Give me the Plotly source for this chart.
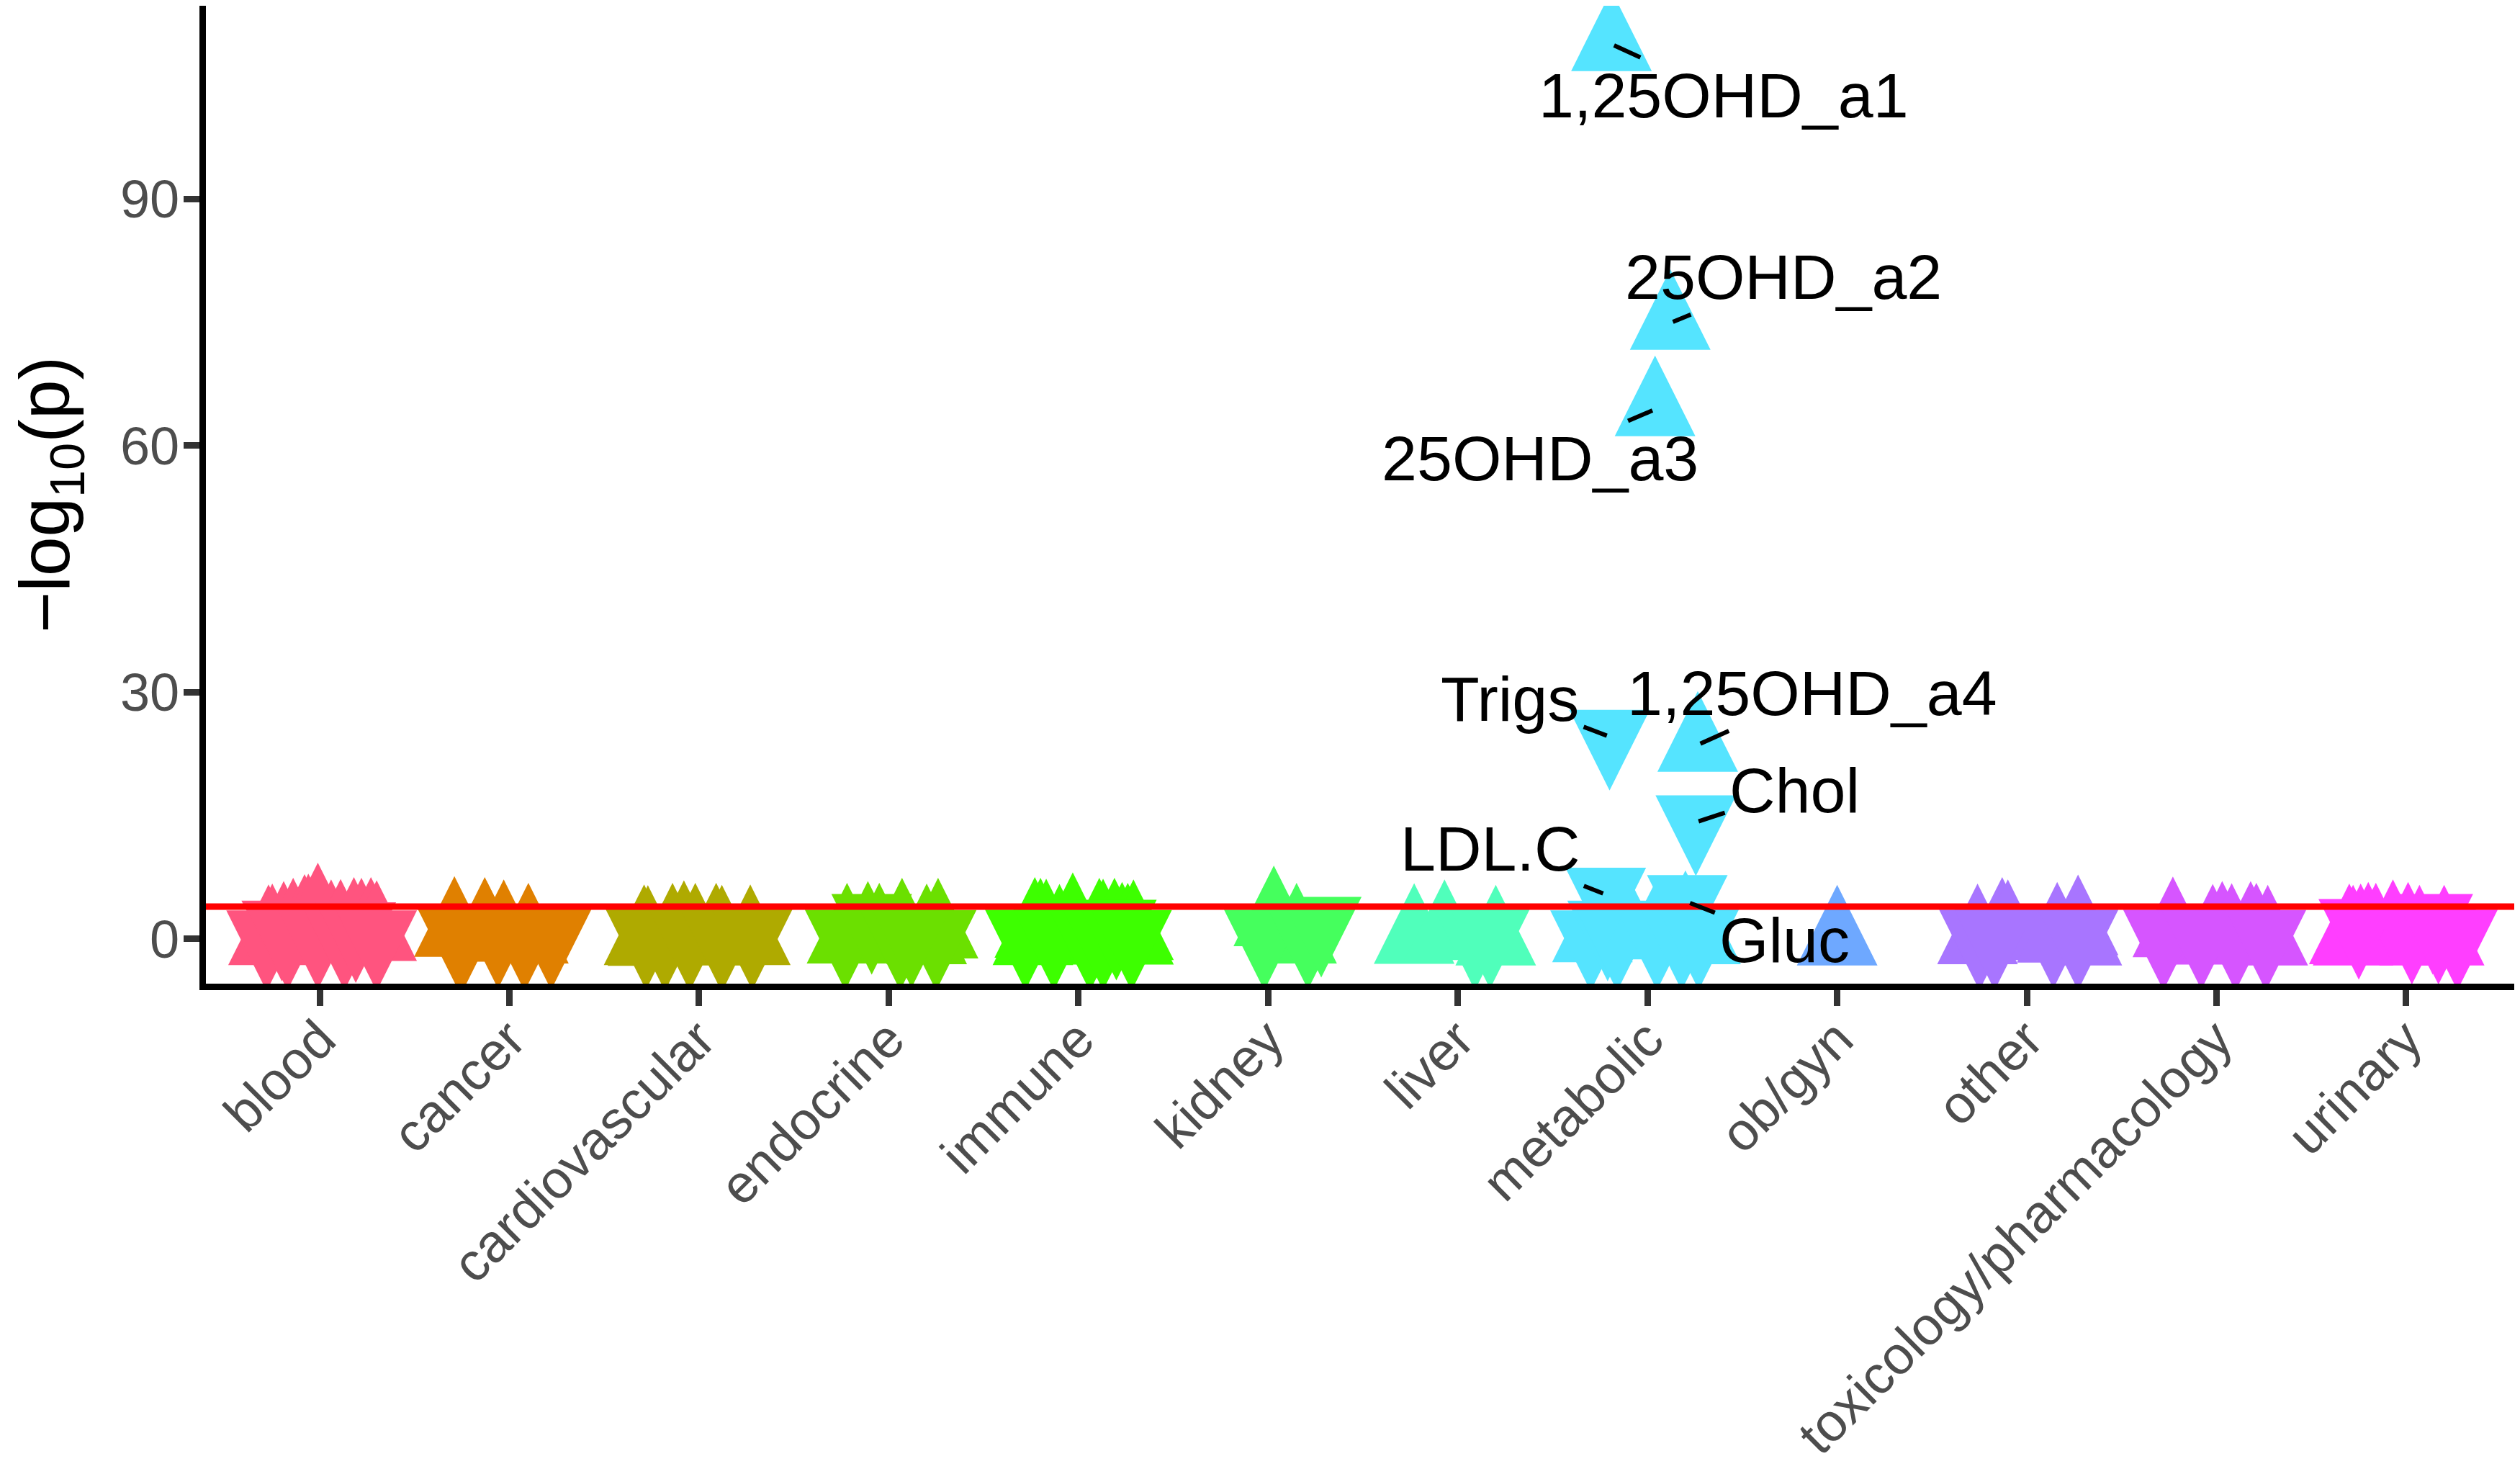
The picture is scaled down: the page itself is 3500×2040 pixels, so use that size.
import plotly.graph_objects as go

categories = ["blood", "cancer", "cardiovascular", "endocrine", "immune", "kidney",
              "liver", "metabolic", "ob/gyn", "other", "toxicology/pharmacology", "urinary"]
cat_colors = ["#FF547F", "#E08000", "#AFAA00", "#6BE000", "#3DFF00", "#45FF5D",
              "#50FFBB", "#55E4FF", "#6EA8FF", "#A875FF", "#D655FF", "#FF3EFF"]

# (jitter, -log10(p), direction of effect: 1 = up, -1 = down)
blood = [(-0.27, 0.1, 1), (-0.25, 0.2, 1), (-0.19, 0.5, 1), (-0.14, 0.9, 1), (-0.08, 1.35, 1),
         (-0.06, 1.4, 1), (-0.01, 2.75, 1), (0.06, 0.7, 1), (0.11, 0.75, 1), (0.18, 1.0, 1),
         (0.22, 0.9, 1), (0.27, 1.0, 1), (0.30, 0.6, 1),
         (-0.28, 0.2, -1), (-0.20, 1.4, -1), (-0.17, 0.3, -1), (-0.01, 0.4, -1), (0.13, 0.3, -1),
         (0.19, 1.2, -1), (0.30, 0.2, -1)]
cancer = [(-0.29, 1.1, 1), (-0.12, 0.5, 1), (-0.03, 0.7, 1), (-0.13, 1.0, 1), (0.10, 0.3, 1),
          (-0.27, 0.35, -1), (-0.24, 0.5, -1), (-0.06, 0.5, -1), (0.08, 0.2, -1), (0.22, 0.35, -1)]
cardio = [(-0.29, 0.1, 1), (-0.27, 0.0, 1), (-0.14, 0.3, 1), (-0.08, 0.6, 1), (-0.02, 0.3, 1),
          (0.09, 0.3, 1), (0.12, 0.05, 1), (0.27, 0.1, 1),
          (-0.28, 0.35, -1), (-0.18, 0.2, -1), (-0.05, 0.2, -1), (0.12, 0.1, -1), (0.28, 0.35, -1)]
endocrine = [(-0.22, 0.3, 1), (-0.11, 0.5, 1), (0.07, 0.9, 1), (0.20, 0.2, 1), (0.26, 0.9, 1),
             (-0.05, 0.3, 1),
             (-0.23, 0.3, -1), (-0.09, 2.2, -1), (0.06, 0.3, -1), (0.25, 0.25, -1), (0.12, 0.6, -1)]
immune = [(-0.23, 1.0, 1), (-0.20, 0.9, 1), (-0.17, 0.8, 1), (-0.10, 0.15, 1), (-0.03, 1.55, 1),
          (0.11, 0.9, 1), (0.13, 0.8, 1), (0.19, 0.9, 1), (0.23, 0.4, 1), (0.26, 0.3, 1),
          (0.29, 0.7, 1), (-0.24, 0.1, 1), (0.29, 0.15, 1),
          (-0.28, 0.3, -1), (-0.13, 0.3, -1), (0.06, 0.2, -1), (0.13, 0.3, -1), (0.20, 1.5, -1),
          (0.28, 0.25, -1)]
kidney = [(0.03, 2.4, 1), (0.15, 0.3, 1),
          (-0.02, 0.3, -1), (0.21, 0.4, -1), (0.28, 1.85, -1)]
liver = [(-0.23, 0.25, 1), (-0.07, 0.7, 1), (0.20, 0.05, 1),
         (0.09, 0.3, -1), (0.17, 0.5, -1)]
metabolic = [(-0.29, 0.45, 1), (-0.10, 1.0, 1), (0.05, 0.8, 1), (0.20, 1.8, 1), (0.28, 0.2, 1),
             (-0.30, 0.2, -1), (-0.21, 1.4, -1), (-0.16, 0.2, -1), (0.05, 0.3, -1), (0.18, 0.3, -1),
             (0.27, 0.35, -1)]
obgyn = [(0.0, 0.05, 1)]
other = [(-0.26, 0.2, 1), (-0.13, 1.0, 1), (-0.10, 0.7, 1), (0.16, 0.4, 1), (0.27, 1.3, 1),
         (0.29, 0.05, 1),
         (-0.25, 0.3, -1), (-0.17, 0.3, -1), (0.14, 0.5, -1), (0.27, 0.3, -1)]
toxicology = [(-0.23, 1.05, 1), (-0.02, 0.15, 1), (0.03, 0.5, 1), (0.08, 0.25, 1), (0.18, 0.5, 1),
              (0.21, 0.3, 1), (0.27, 0.05, 1),
              (-0.28, 0.3, -1), (-0.08, 0.4, -1), (0.10, 0.2, -1), (0.26, 0.25, -1)]
urinary = [(-0.30, 0.2, 1), (-0.24, 0.2, 1), (-0.20, 0.4, 1), (-0.16, 0.3, 1), (-0.07, 0.7, 1),
           (0.01, 0.4, 1), (0.07, 0.05, 1), (0.20, 0.05, 1), (-0.28, 0.05, 1),
           (-0.25, 1.6, -1), (0.14, 2.2, -1), (0.27, 0.3, -1), (0.03, 1.0, -1), (0.17, 1.0, -1)]

points_by_cat = [blood, cancer, cardio, endocrine, immune, kidney,
                 liver, metabolic, obgyn, other, toxicology, urinary]

# labelled metabolic hits: (name, jitter, -log10(p), direction)
hits = [("1,25OHD_a1", -0.19, 108.8, 1), ("25OHD_a2", 0.12, 74.9, 1), ("25OHD_a3", 0.04, 64.4, 1),
        ("Trigs", -0.20, 24.6, -1), ("1,25OHD_a4", 0.265, 23.6, 1), ("Chol", 0.255, 14.2, -1),
        ("LDL.C", -0.22, 5.4, -1), ("Gluc", 0.21, 4.5, -1)]
hit_category = "metabolic"
# where the repelled text sits (x in category units, y in -log10 p)
label_pos = [(8.40, 102.6), (8.715, 80.5), (7.435, 58.4), (7.276, 29.2),
             (8.87, 29.9), (8.775, 18.1), (7.169, 11.0), (8.722, -0.1)]

threshold = 3.94

MSIZE = 112
STANDOFF = MSIZE * 2 / 3  # puts the triangle centroid on the data point

fig = go.Figure()


def add_points(xs, ys, dirs, color):
    for d in (1, -1):
        px = [x for x, dd in zip(xs, dirs) if dd == d]
        py = [y for y, dd in zip(ys, dirs) if dd == d]
        if not px:
            continue
        fig.add_trace(go.Scatter(
            x=px, y=py, mode="markers", hoverinfo="skip",
            marker=dict(symbol="arrow-down", angle=180 if d == 1 else 0,
                        standoff=STANDOFF, size=MSIZE, color=color,
                        line=dict(width=0))))


for i, (cat, pts) in enumerate(zip(categories, points_by_cat)):
    xs = [i + 1 + p[0] for p in pts]
    ys = [p[1] for p in pts]
    ds = [p[2] for p in pts]
    if cat == hit_category:
        xs += [i + 1 + h[1] for h in hits]
        ys += [h[2] for h in hits]
        ds += [h[3] for h in hits]
    add_points(xs, ys, ds, cat_colors[i])

fig.add_hline(y=threshold, line=dict(color="#FF0000", width=9))

hx = categories.index(hit_category) + 1
for (name, jit, val, _), (lx, ly) in zip(hits, label_pos):
    fig.add_annotation(x=hx + jit, y=val, ax=lx, ay=ly, axref="x", ayref="y",
                       text=name, showarrow=True, arrowhead=0, arrowwidth=6,
                       arrowcolor="black", standoff=4, startstandoff=6, borderpad=0,
                       font=dict(size=88, color="black"))

# y axis title
fig.add_annotation(x=-0.0675, y=0.5, xref="paper", yref="paper", showarrow=False,
                   xanchor="center", yanchor="middle",
                   text="\u2212log<sub>10</sub>(p)", textangle=-90,
                   font=dict(size=98, color="black"))

axis_style = dict(showline=True, linecolor="black", linewidth=9, showgrid=False, zeroline=False,
                  ticks="outside", ticklen=22, tickwidth=9, tickcolor="#333333",
                  tickfont=dict(size=74, color="#4D4D4D"))

fig.update_xaxes(range=[0.4, 12.6], tickvals=list(range(1, 13)), ticktext=categories,
                 tickangle=-45, ticklabelstandoff=-27, **axis_style)
fig.update_yaxes(range=[-5.43, 113.47], tickvals=[0, 30, 60, 90], ticklabelstandoff=-9,
                 **axis_style)

fig.update_layout(width=3500, height=2040, showlegend=False,
                  margin=dict(l=278, r=8, t=0, b=682),
                  plot_bgcolor="white", paper_bgcolor="white",
                  font=dict(family="Liberation Sans, Arial, sans-serif"))

fig.write_html("out.html", config={"displayModeBar": False})
